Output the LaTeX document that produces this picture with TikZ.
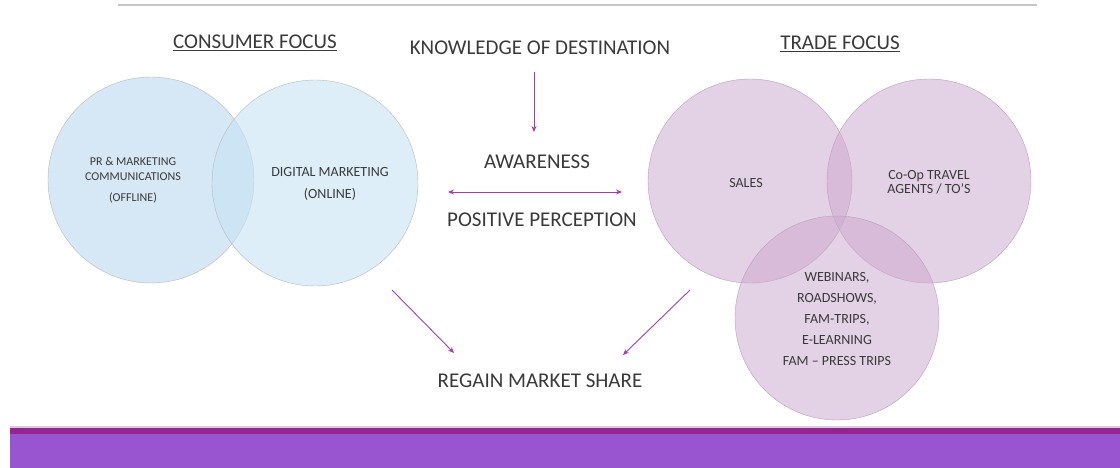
\documentclass[tikz,border=0pt]{standalone}
\usepackage{fontspec}
\setmainfont{Carlito}
\usetikzlibrary{arrows.meta}
\definecolor{TextGray}{RGB}{58,58,58}
\definecolor{ArrowPurple}{RGB}{165,60,170}
\definecolor{BlueLeft}{RGB}{214,231,245}
\definecolor{BlueRight}{RGB}{200,227,245}
\definecolor{PinkFill}{RGB}{205,170,208}
\definecolor{BandMain}{RGB}{153,85,208}
\definecolor{BandDark}{RGB}{147,39,143}
\definecolor{BandLight}{RGB}{222,200,226}

\begin{document}
\begin{tikzpicture}[x=1pt,y=-1pt]
    \tikzset{BlueCircle/.style = {shape = circle, minimum size = 206, inner sep = 0, draw = gray!55}}
    \tikzset{PinkCircle/.style = {shape = circle, minimum size = 204, inner sep = 0, draw = PinkFill!75!gray, fill = PinkFill, fill opacity = 0.54}}
    \tikzset{BigText/.style = {text = TextGray, font = \fontsize{21}{24}\selectfont, inner sep = 1}}
    \tikzset{SmallText/.style = {text = TextGray, font = \fontsize{14}{14}\selectfont, align = center, inner sep = 1}}
    \tikzset{FlowArrow/.style = {draw = ArrowPurple, line width = 0.9, -{Stealth[length = 6, width = 5]}}}

    \useasboundingbox[fill = white] (0,0) rectangle (1120,468);
    \draw[gray!45, line width = 1.4] (118,5) -- (1037,5);

    % consumer focus
    \node[BlueCircle, fill = BlueLeft] at (151,180) (offline) {};
    \node[BlueCircle, fill = BlueRight, fill opacity = 0.6] at (315,183) (online) {};
    \node[BigText] at (255,43) (consumer) {\underline{CONSUMER FOCUS}};
    \node[SmallText, font = \fontsize{12}{15}\selectfont] at (133,180) (prtext)
        {PR \& MARKETING\\COMMUNICATIONS\\[6pt](OFFLINE)};
    \node[SmallText, font = \fontsize{14}{22}\selectfont] at (330,184) (digtext) {DIGITAL MARKETING\\(ONLINE)};

    % trade focus
    \node[PinkCircle] at (750,181) (sales) {};
    \node[PinkCircle] at (929,181) (coop) {};
    \node[PinkCircle] at (837,318) (webinars) {};
    \node[BigText] at (840,44) (trade) {\underline{TRADE FOCUS}};
    \node[SmallText] at (746,183) (salestext) {SALES};
    \node[SmallText] at (929,182) (cooptext) {Co-Op TRAVEL\\AGENTS / TO'S};
    \node[SmallText, font = \fontsize{14}{21}\selectfont] at (837,319) (webtext)
        {WEBINARS,\\ROADSHOWS,\\FAM-TRIPS,\\E-LEARNING\\FAM -- PRESS TRIPS};

    % middle column
    \node[BigText] at (540,48) (know) {KNOWLEDGE OF DESTINATION};
    \node[BigText] at (537,162) (aware) {AWARENESS};
    \node[BigText] at (542,220) (percept) {POSITIVE PERCEPTION};
    \node[BigText] at (540,381) (regain) {REGAIN MARKET SHARE};

    \coordinate (downfrom) at (534,72);
    \coordinate (downto) at (534,132);
    \coordinate (leftend) at (448,192);
    \coordinate (rightend) at (622,192);
    \coordinate (leftfrom) at (392,290);
    \coordinate (leftto) at (454,353);
    \coordinate (rightfrom) at (690,290);
    \coordinate (rightto) at (623,355);

    \draw[FlowArrow] (downfrom) -- (downto);
    \draw[FlowArrow, {Stealth[length = 6, width = 5]}-{Stealth[length = 6, width = 5]}] (leftend) -- (rightend);
    \draw[FlowArrow] (leftfrom) -- (leftto);
    \draw[FlowArrow] (rightfrom) -- (rightto);

    % bottom band
    \fill[BandLight] (10,426) rectangle (1120,428);
    \fill[BandDark] (10,428) rectangle (1120,434);
    \fill[BandMain] (10,434) rectangle (1120,468);
\end{tikzpicture}
\end{document}
